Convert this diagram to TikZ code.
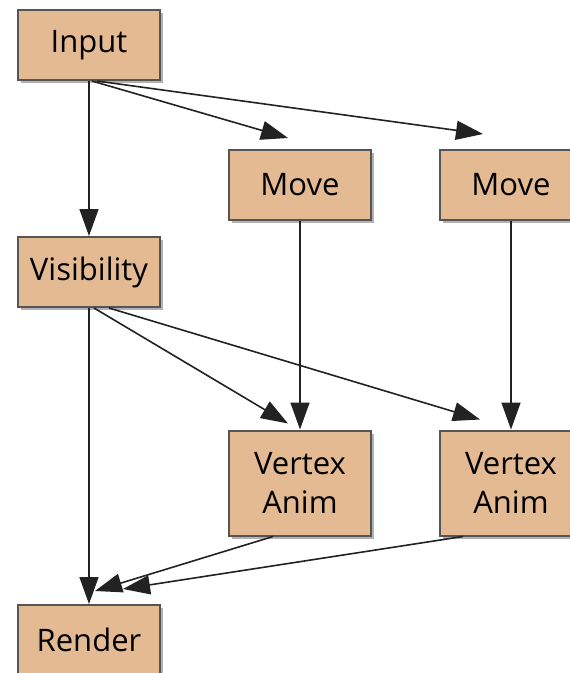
\documentclass[tikz,border=0pt]{standalone}
\usepackage{fontspec}
\setmainfont{Open Sans}
\usetikzlibrary{calc,arrows.meta,shadows}

\definecolor{boxfill}{HTML}{E4BA92}
\definecolor{boxline}{HTML}{555555}
\definecolor{edgeline}{HTML}{222222}

\tikzset{
    stage/.style={draw=boxline, line width=2pt, fill=boxfill,
        minimum width=142pt, minimum height=70pt, inner sep=0pt,
        align=center, font=\fontsize{31}{39}\selectfont,
        drop shadow={shadow xshift=3pt, shadow yshift=-3pt, opacity=0.3, fill=black}},
    twoline/.style={stage, minimum height=105pt},
    flow/.style={draw=edgeline, line width=1.6pt,
        -{Triangle[length=27pt,width=19pt]}}
}

\begin{document}
\begin{tikzpicture}[x=1pt, y=-1pt]
    \useasboundingbox (0,0) rectangle (570,673);

    % left column
    \node[stage] (input) at (89,45) {Input};
    \node[stage] (vis) at (89,272) {Visibility};
    \node[stage] (render) at (89,640) {Render};

    % move stages
    \node[stage] (move_a) at (300,185) {Move};
    \node[stage] (move_b) at (511,185) {Move};

    % vertex animation stages
    \node[twoline] (anim_a) at (300,483) {Vertex\\Anim};
    \node[twoline] (anim_b) at (511,483) {Vertex\\Anim};

    % edges out of input
    \draw[flow] (input.south) -- (vis.north);
    \draw[flow] ($(input.south)+(3,0)$) -- ($(move_a.north)+(-12,-11)$);
    \draw[flow] ($(input.south)+(8,0)$) -- ($(move_b.north)+(-28,-15)$);

    % edges out of visibility
    \draw[flow] (vis.south) -- (render.north);
    \draw[flow] ($(vis.south)+(5,0)$) -- ($(anim_a.north)+(-12,-6)$);
    \draw[flow] ($(vis.south)+(20,0)$) -- ($(anim_b.north)+(-31,-10)$);

    % move to vertex anim
    \draw[flow] (move_a.south) -- (anim_a.north);
    \draw[flow] (move_b.south) -- (anim_b.north);

    % vertex anim to render
    \draw[flow] ($(anim_a.south)+(-27,0)$) -- ($(render.north)+(6,-13)$);
    \draw[flow] ($(anim_b.south)+(-48,0)$) -- ($(render.north)+(34,-15)$);
\end{tikzpicture}
\end{document}
